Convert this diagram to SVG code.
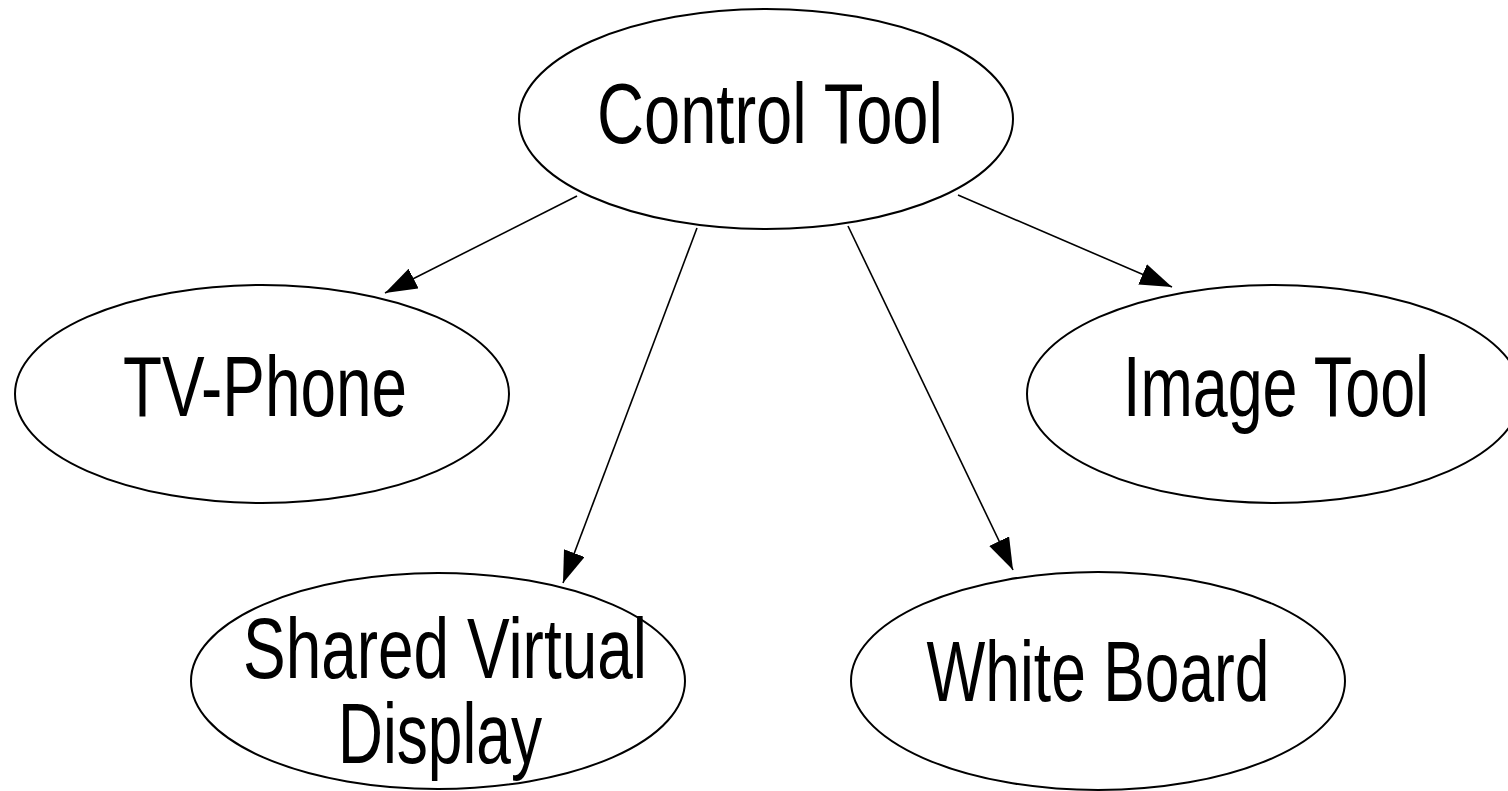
<svg xmlns="http://www.w3.org/2000/svg" width="1508" height="791" viewBox="0 0 1508 791">
  <style>
    .node ellipse { fill: #ffffff; stroke: #000000; stroke-width: 2; }
    .node text { font-family: "Liberation Sans", Arial, sans-serif; font-size: 86px; fill: #000000; text-anchor: middle; }
    .edge { fill: none; stroke: #000000; stroke-width: 1.6; marker-end: url(#arrow); }
  </style>
  <defs>
    <marker id="arrow" markerUnits="userSpaceOnUse" markerWidth="34" markerHeight="24" refX="32" refY="11" orient="auto">
      <path d="M0,0 L32,11 L0,22 z" fill="#000000"/>
    </marker>
  </defs>
  <rect width="1508" height="791" fill="#ffffff"/>

  <!-- connectors -->
  <g id="edges">
    <line class="edge" x1="577" y1="196" x2="385" y2="293"/>
    <line class="edge" x1="697" y1="228" x2="563" y2="583"/>
    <line class="edge" x1="848" y1="226" x2="1013" y2="570"/>
    <line class="edge" x1="958" y1="195" x2="1172" y2="287"/>
  </g>

  <g id="control-tool" class="node">
    <ellipse cx="766" cy="119" rx="247" ry="110"/>
    <text x="770" y="143" textLength="346" lengthAdjust="spacingAndGlyphs">Control Tool</text>
  </g>

  <g id="tv-phone" class="node">
    <ellipse cx="262" cy="394" rx="247" ry="109"/>
    <text x="265" y="416" textLength="284" lengthAdjust="spacingAndGlyphs">TV-Phone</text>
  </g>

  <g id="image-tool" class="node">
    <ellipse cx="1274" cy="394" rx="247" ry="109"/>
    <text x="1276" y="416" textLength="306" lengthAdjust="spacingAndGlyphs">Image Tool</text>
  </g>

  <g id="shared-virtual-display" class="node">
    <ellipse cx="438" cy="681" rx="247" ry="108"/>
    <text x="445" y="678" textLength="404" lengthAdjust="spacingAndGlyphs">Shared Virtual</text>
    <text x="440" y="763" textLength="204" lengthAdjust="spacingAndGlyphs">Display</text>
  </g>

  <g id="white-board" class="node">
    <ellipse cx="1098" cy="681" rx="247" ry="109"/>
    <text x="1098" y="701" textLength="343" lengthAdjust="spacingAndGlyphs">White Board</text>
  </g>
</svg>
